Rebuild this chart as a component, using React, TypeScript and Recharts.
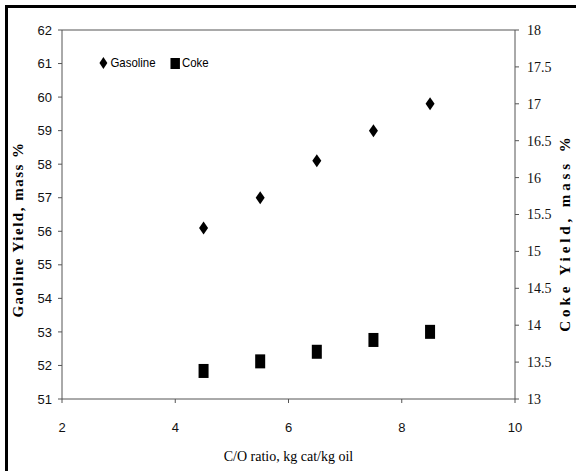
import { ComposedChart, Scatter, XAxis, YAxis, ReferenceLine } from "recharts";

const ratios = [4.5, 5.5, 6.5, 7.5, 8.5];
const gasoline = [56.1, 57.0, 58.1, 59.0, 59.8];
const coke = [13.38, 13.51, 13.64, 13.8, 13.91];

const xTicks = [2, 4, 6, 8, 10];
const leftTicks = [51, 52, 53, 54, 55, 56, 57, 58, 59, 60, 61, 62];
const rightTicks = [13, 13.5, 14, 14.5, 15, 15.5, 16, 16.5, 17, 17.5, 18];

const gasData = ratios.map((x, i) => ({ x, y: gasoline[i] }));
const cokeData = ratios.map((x, i) => ({ x, y: coke[i] }));

const narrow = '"Liberation Sans Narrow", "Liberation Sans", sans-serif';
const serif = '"Liberation Serif", "DejaVu Serif", serif';
const axisColor = "#555";

const Diamond = (props: any) => {
  const { cx, cy } = props;
  return <polygon points={`${cx},${cy - 6.5} ${cx + 4.5},${cy} ${cx},${cy + 6.5} ${cx - 4.5},${cy}`} fill="#000" />;
};

const Square = (props: any) => {
  const { cx, cy } = props;
  return <rect x={cx - 5} y={cy - 7} width={10} height={14} fill="#000" />;
};

const LegendBox = () => (
  <div
    style={{
      position: "absolute",
      left: 99,
      top: 55,
      display: "flex",
      alignItems: "center",
      fontFamily: narrow,
      fontSize: 13,
      color: "#000",
      transform: "scaleX(0.88)",
      transformOrigin: "left center",
    }}
  >
    <svg width={10} height={14}>
      <polygon points="5,1 9.5,7 5,13 0.5,7" fill="#000" />
    </svg>
    <span style={{ marginLeft: 3, marginRight: 17 }}>Gasoline</span>
    <svg width={11} height={12}>
      <rect x={0} y={1} width={11} height={11} fill="#000" />
    </svg>
    <span style={{ marginLeft: 2 }}>Coke</span>
  </div>
);

// vertical axis title, centred on the axis box and moved by `shift` px downwards
const VTitle = ({ viewBox, text, side, spacing, shift }: any) => {
  const { x, y, width, height } = viewBox;
  const cx = side === "left" ? x - 4 : x + width + 5;
  const cy = y + height / 2 + shift;
  return (
    <text
      x={cx}
      y={cy}
      transform={`rotate(-90, ${cx}, ${cy})`}
      textAnchor="middle"
      dominantBaseline="central"
      fill="#000"
      fontFamily={serif}
      fontSize={15}
      fontWeight="bold"
      letterSpacing={spacing}
    >
      {text}
    </text>
  );
};

export default function App() {
  return (
    <div style={{ position: "absolute", left: 0, top: 0, width: 576, height: 471, overflow: "hidden", background: "#fff" }}>
      <div
        style={{
          position: "absolute",
          left: 5,
          top: 5,
          width: 600,
          height: 500,
          borderLeft: "3px solid #000",
          borderTop: "3px solid #000",
        }}
      />
      <div style={{ position: "absolute", left: 0, top: 0 }}>
        <ComposedChart width={576} height={471} margin={{ top: 30, right: 16, bottom: 22, left: 22 }}>
          <XAxis
            type="number"
            dataKey="x"
            domain={[2, 10]}
            ticks={xTicks}
            height={50}
            stroke={axisColor}
            tickSize={4}
            tick={{ fill: "#111", fontFamily: narrow, fontSize: 13 }}
            tickMargin={20}
            label={{
              value: "C/O ratio, kg cat/kg oil",
              position: "insideBottom",
              offset: -12,
              style: { fill: "#000", fontFamily: serif, fontSize: 14 },
            }}
          />
          <YAxis
            yAxisId="left"
            type="number"
            dataKey="y"
            domain={[51, 62]}
            ticks={leftTicks}
            width={40}
            stroke={axisColor}
            tickSize={4}
            tickMargin={6}
            tick={{ fill: "#111", fontFamily: narrow, fontSize: 13 }}
            label={{
              content: (p: any) => (
                <VTitle viewBox={p.viewBox} text="Gaoline Yield, mass %" side="left" spacing={1.5} shift={15} />
              ),
            }}
          />
          <YAxis
            yAxisId="right"
            type="number"
            dataKey="y"
            orientation="right"
            domain={[13, 18]}
            ticks={rightTicks}
            width={45}
            stroke={axisColor}
            tickSize={4}
            tickMargin={8}
            tick={{ fill: "#111", fontFamily: serif, fontSize: 14 }}
            label={{
              content: (p: any) => (
                <VTitle viewBox={p.viewBox} text="Coke Yield, mass %" side="right" spacing={3.9} shift={18} />
              ),
            }}
          />
          <ReferenceLine yAxisId="left" y={62} stroke={axisColor} />
          <Scatter yAxisId="left" name="Gasoline" data={gasData} dataKey="y" shape={<Diamond />} isAnimationActive={false} />
          <Scatter yAxisId="right" name="Coke" data={cokeData} dataKey="y" shape={<Square />} isAnimationActive={false} />
        </ComposedChart>
      </div>
      <LegendBox />
    </div>
  );
}
